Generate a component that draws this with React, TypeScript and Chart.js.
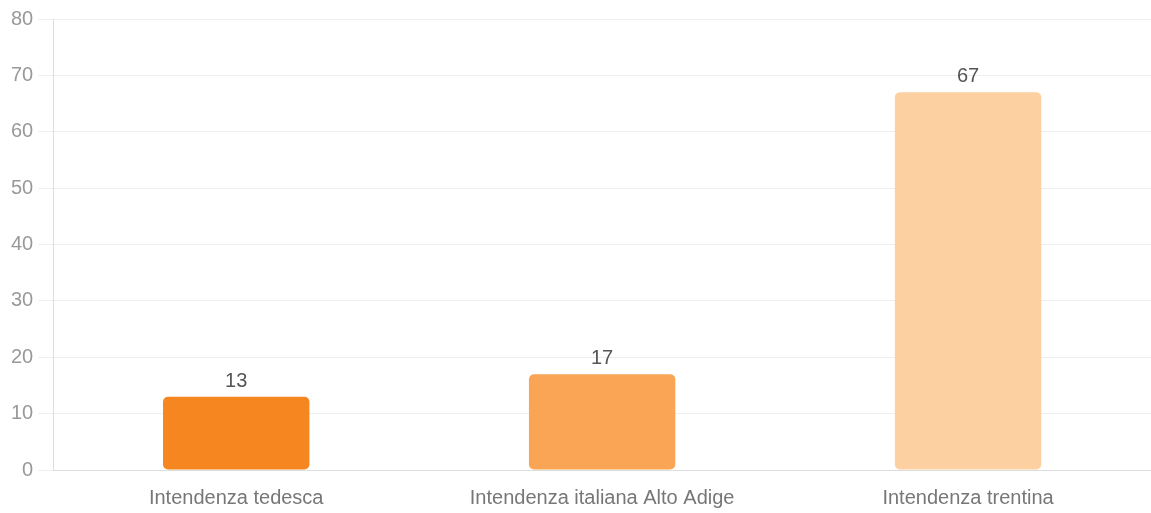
import React, { useEffect, useRef } from "react";
import { Chart, registerables } from "chart.js";
Chart.register(...registerables);

const categories = ["Intendenza tedesca", "Intendenza italiana Alto Adige", "Intendenza trentina"];
const values = [13, 17, 67];
const barColors = ["#F6861F", "#F9A555", "#FCD0A0"];
const yTicks = [0, 10, 20, 30, 40, 50, 60, 70, 80];

const FONT = "'Liberation Sans', Arial, sans-serif";

const valueLabels = {
  id: "valueLabels",
  afterDatasetsDraw(chart: any) {
    const ctx = chart.ctx;
    const meta = chart.getDatasetMeta(0);
    ctx.save();
    ctx.font = `20px ${FONT}`;
    ctx.fillStyle = "#555";
    ctx.textAlign = "center";
    ctx.textBaseline = "alphabetic";
    meta.data.forEach((el: any, i: number) => {
      ctx.fillText(String(values[i]), el.x, el.y - 10);
    });
    ctx.restore();
  },
};

export default function App() {
  const ref = useRef<HTMLCanvasElement>(null);
  useEffect(() => {
    const chart = new Chart(ref.current!, {
      type: "bar",
      data: {
        labels: categories,
        datasets: [
          {
            data: values,
            backgroundColor: barColors,
            borderRadius: 5,
            borderSkipped: false,
            categoryPercentage: 0.8,
            barPercentage: 0.5,
          },
        ],
      },
      options: {
        animation: false,
        responsive: true,
        maintainAspectRatio: false,
        layout: { padding: { top: 19, right: 0, left: 6, bottom: -5 } },
        plugins: { legend: { display: false }, tooltip: { enabled: false } },
        scales: {
          x: {
            grid: { display: false },
            border: { color: "#ddd" },
            ticks: { color: "#777", font: { family: FONT, size: 20 }, padding: 8 },
          },
          y: {
            min: 0,
            max: 80,
            afterBuildTicks: (axis: any) => {
              axis.ticks = yTicks.map((v) => ({ value: v }));
            },
            grid: { color: "#eee", tickLength: 15 },
            border: { color: "#ddd" },
            ticks: { color: "#999", font: { family: FONT, size: 20 }, padding: 5 },
          },
        },
      },
      plugins: [valueLabels],
    });
    return () => chart.destroy();
  }, []);
  return (
    <div style={{ position: "fixed", left: 0, top: 0, width: 1151, height: 513, background: "#fff" }}>
      <canvas ref={ref} />
    </div>
  );
}
